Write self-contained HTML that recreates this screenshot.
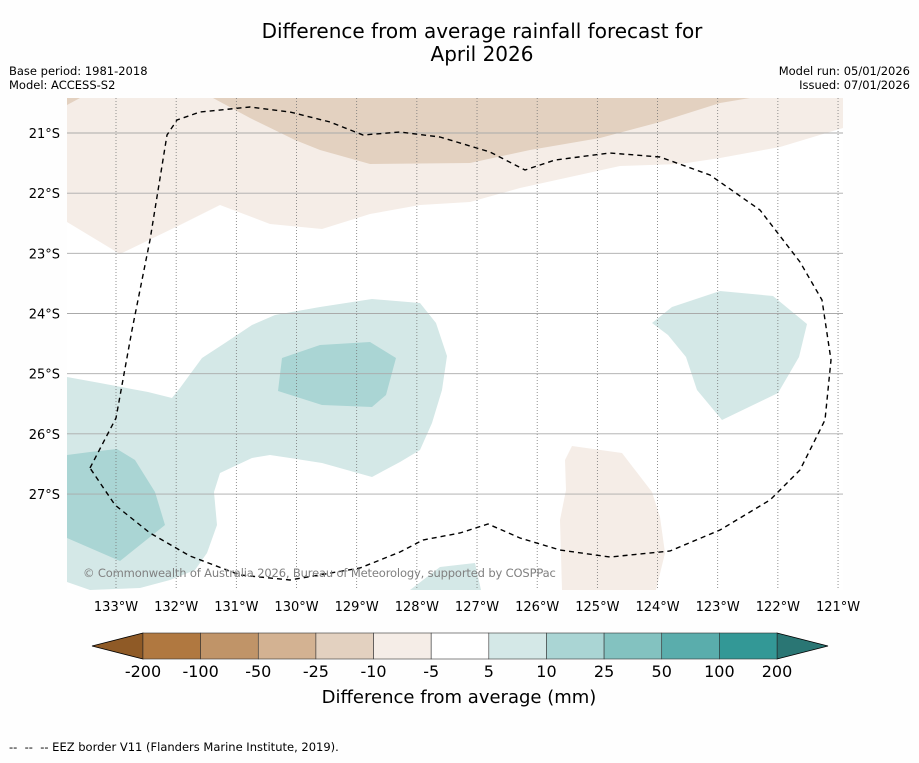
<!DOCTYPE html>
<html><head><meta charset="utf-8"><style>
body{margin:0;background:#fefefe;font-family:"Liberation Sans","DejaVu Sans",sans-serif}
svg text{font-family:"DejaVu Sans","Liberation Sans",sans-serif}
</style></head><body>
<svg width="919" height="758" xmlns="http://www.w3.org/2000/svg">
<rect width="919" height="758" fill="#fefefe"/>
<text x="482" y="38" font-size="20" text-anchor="middle">Difference from average rainfall forecast for</text>
<text x="482" y="61" font-size="20" text-anchor="middle">April 2026</text>
<text x="9" y="75" font-size="11.5">Base period: 1981-2018</text>
<text x="9" y="89" font-size="11.5">Model: ACCESS-S2</text>
<text x="910" y="75" font-size="11.5" text-anchor="end">Model run: 05/01/2026</text>
<text x="910" y="89" font-size="11.5" text-anchor="end">Issued: 07/01/2026</text>
<defs><clipPath id="mc"><rect x="67" y="98" width="776" height="492"/></clipPath></defs>
<g clip-path="url(#mc)">
<rect x="67" y="98" width="776" height="492" fill="#fff"/>
<polygon fill="#f5ede7" points="67,98 67,222 120,254 180,225 220,205 270,224 322,229 370,214 420,205 470,202 520,188 570,177 620,166 680,164 720,158 780,147 843,128 843,98"/>
<polygon fill="#e3d1c0" points="213,98 250,118 295,140 320,150 370,164 470,163 530,150 600,138 660,122 720,103 750,98"/>
<polygon fill="#e3d1c0" points="67,98 67,105 80,98"/>
<polygon fill="#d4e8e7" points="67,377 100,383 148,392 172,398 180,388 202,358 225,343 252,325 275,315 320,307 372,299 420,303 436,323 447,356 442,390 432,423 420,450 400,462 372,477 322,463 290,458 270,455 252,458 220,473 214,492 217,525 207,553 195,570 170,580 140,588 90,590 67,582"/>
<polygon fill="#aad5d4" points="282,358 320,345 370,342 396,358 386,395 372,407 322,405 278,391"/>
<polygon fill="#aad5d4" points="67,455 90,452 117,449 135,460 155,492 165,525 120,561 67,538"/>
<polygon fill="#d4e8e7" points="652,323 672,307 720,291 773,296 807,324 799,357 778,393 722,420 697,390 686,357 668,335"/>
<polygon fill="#f5ede7" points="565,460 572,446 622,453 652,492 660,517 665,553 656,590 562,590 560,520 566,490"/>
<polygon fill="#d4e8e7" points="410,590 440,567 475,563 481,590"/>
<g id="grid"></g>
<polyline fill="none" stroke="#000" stroke-width="1.4" stroke-dasharray="5,4" points="90,468 116,418 132,330 150,240 167,135 177,120 200,112 250,107 290,112 330,122 363,135 400,132 440,137 490,152 525,170 555,160 610,153 660,157 710,175 760,210 800,262 822,300 831,360 825,420 800,470 770,500 720,530 670,551 610,557 560,550 520,538 488,524 460,533 423,540 400,552 360,568 290,580 240,575 190,556 150,533 115,505 90,468"/>
</g>
<text x="83" y="577" font-size="11.5" letter-spacing="-0.15" fill="#808080">© Commonwealth of Australia 2026, Bureau of Meteorology, supported by COSPPac</text>
<g id="ticks"></g>
<g id="cbar"></g>
<text x="459" y="703" font-size="18" text-anchor="middle">Difference from average (mm)</text>
<text x="9" y="751" font-size="11.5" xml:space="preserve">--  --  -- EEZ border V11 (Flanders Marine Institute, 2019).</text>
</svg>
<script>
const lons=[-133,-132,-131,-130,-129,-128,-127,-126,-125,-124,-123,-122,-121];
const lats=[-21,-22,-23,-24,-25,-26,-27];
const levels=["-200","-100","-50","-25","-10","-5","5","10","25","50","100","200"];
const colors=["#b07840","#c09468","#d3b292","#e3d1c0","#f5ede7","#ffffff","#d4e8e7","#aad5d4","#83c2c0","#5aadac","#339896"];
const NS="http://www.w3.org/2000/svg";
const px=60.17;
const xOf=l=>116+(l+133)*px, yOf=l=>133+(-21-l)*px;
function mk(t,a,p){const e=document.createElementNS(NS,t);for(const k in a)e.setAttribute(k,a[k]);p.appendChild(e);return e;}
const grid=document.getElementById('grid'),ticks=document.getElementById('ticks');
lons.forEach(l=>{const x=xOf(l);
 const ln=mk('line',{x1:x,x2:x,y1:98,y2:590,stroke:'#777','stroke-width':0.8,'stroke-dasharray':'1,2'},grid);
 
 
 const t=mk('text',{x:x,y:611,'font-size':13,'text-anchor':'middle'},ticks);t.textContent=(-l)+'°W';
 
 });
lats.forEach(l=>{const y=yOf(l);
 const ln=mk('line',{x1:67,x2:843,y1:y,y2:y,stroke:'#aaa','stroke-width':0.9},grid);
 
 
 const t=mk('text',{x:60,y:y+5,'font-size':13,'text-anchor':'end'},ticks);t.textContent=(-l)+'°S';
 
 });
const cb=document.getElementById('cbar');const x0=143,x1=777,w=(x1-x0)/colors.length;
const lt=mk('polygon',{points:'92,646 143,633 143,659',fill:'#8f5a26',stroke:'#000','stroke-width':0.8},cb);


const rt=mk('polygon',{points:'828,646 777,633 777,659',fill:'#2a7674',stroke:'#000','stroke-width':0.8},cb);


colors.forEach((c,i)=>{const r=mk('rect',{x:x0+i*w,y:633,width:w,height:26,fill:c,stroke:'#333','stroke-width':0.6},cb);
 
 });
levels.forEach((s,i)=>{const t=mk('text',{x:x0+i*w,y:677,'font-size':16,'text-anchor':'middle'},cb);t.textContent=s;
 
 });
</script>
</body></html>
